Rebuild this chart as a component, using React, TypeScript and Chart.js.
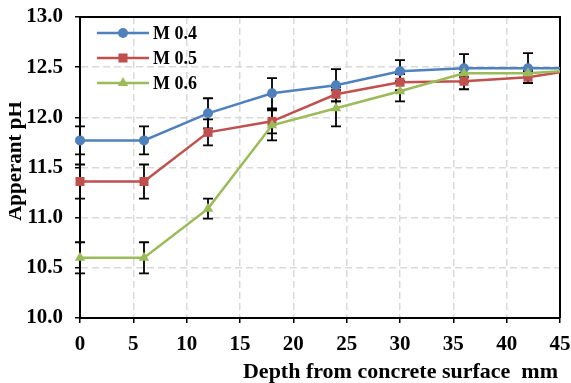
import React, { useEffect, useRef } from "react";
import { Chart, registerables } from "chart.js";

Chart.register(...registerables);

// ---- data ----
const depths = [0, 6, 12, 18, 24, 30, 36, 42, 48];
const seriesNames = ["M 0.4", "M 0.5", "M 0.6"];
const m04 = [11.77, 11.77, 12.04, 12.24, 12.32, 12.46, 12.49, 12.49, 12.49];
const m04Err = [0.14, 0.14, 0.15, 0.15, 0.16, 0.11, 0.14, 0.15, 0];
const m05 = [11.36, 11.36, 11.85, 11.96, 12.23, 12.35, 12.36, 12.4, 12.5];
const m05Err = [0.17, 0.17, 0.13, 0.12, 0.07, 0.08, 0.08, 0.06, 0];
const m06 = [10.6, 10.6, 11.09, 11.92, 12.09, 12.26, 12.44, 12.44, 12.48];
const m06Err = [0.155, 0.155, 0.1, 0.15, 0.18, 0.1, 0.04, 0.03, 0];
const xMin = 0;
const xMax = 45;
const xStep = 5;
const yMin = 10;
const yMax = 13;
const yStep = 0.5;
const xTitle = "Depth from concrete surface  mm";
const yTitle = "Apperant pH";

const values = [m04, m05, m06];
const errors = [m04Err, m05Err, m06Err];
const colors = ["#4F81BD", "#C0504D", "#9BBB59"];
const pointStyles = ["circle", "rect", "triangle"];
const pointRadii = [5, 6.4, 6];

const FONT = '"Liberation Serif", "Times New Roman", serif';

function drawMarker(ctx: CanvasRenderingContext2D, style: string, x: number, y: number, r: number, color: string) {
  ctx.save();
  ctx.fillStyle = color;
  ctx.beginPath();
  if (style === "circle") {
    ctx.arc(x, y, r, 0, Math.PI * 2);
  } else if (style === "rect") {
    const s = r * Math.SQRT1_2;
    ctx.rect(x - s, y - s, 2 * s, 2 * s);
  } else {
    const a = -Math.PI / 2;
    for (let i = 0; i < 3; i++) {
      const ang = a + (i * 2 * Math.PI) / 3;
      const px = x + Math.cos(ang) * r;
      const py = y + Math.sin(ang) * r;
      if (i === 0) ctx.moveTo(px, py);
      else ctx.lineTo(px, py);
    }
    ctx.closePath();
  }
  ctx.fill();
  ctx.restore();
}

const overlay = {
  id: "overlay",
  beforeDatasetsDraw(chart: any) {
    const { ctx, chartArea, scales } = chart;
    const x = scales.x;
    const y = scales.y;
    ctx.save();
    // top & right border
    ctx.strokeStyle = "#000";
    ctx.lineWidth = 2;
    ctx.beginPath();
    ctx.moveTo(chartArea.left, chartArea.top);
    ctx.lineTo(chartArea.right, chartArea.top);
    ctx.lineTo(chartArea.right, chartArea.bottom);
    ctx.stroke();
    // error bars
    ctx.lineWidth = 1.8;
    errors.forEach((err, si) => {
      const vals = values[si];
      depths.forEach((d, i) => {
        if (!err[i]) return;
        const px = x.getPixelForValue(d);
        if (px > chartArea.right + 1) return;
        const top = y.getPixelForValue(vals[i] + err[i]);
        const bot = y.getPixelForValue(vals[i] - err[i]);
        ctx.beginPath();
        ctx.moveTo(px, top);
        ctx.lineTo(px, bot);
        ctx.moveTo(px - 5, top);
        ctx.lineTo(px + 5, top);
        ctx.moveTo(px - 5, bot);
        ctx.lineTo(px + 5, bot);
        ctx.stroke();
      });
    });
    ctx.restore();
  },
  afterDraw(chart: any) {
    const { ctx } = chart;
    ctx.save();
    // legend
    const rows = [33, 58, 83];
    seriesNames.forEach((name, i) => {
      const ry = rows[i];
      ctx.strokeStyle = colors[i];
      ctx.lineWidth = 2.5;
      ctx.beginPath();
      ctx.moveTo(97, ry);
      ctx.lineTo(149, ry);
      ctx.stroke();
      drawMarker(ctx, pointStyles[i], 123, ry, pointRadii[i], colors[i]);
      ctx.fillStyle = "#000";
      ctx.font = `bold 18px ${FONT}`;
      ctx.textAlign = "left";
      ctx.textBaseline = "middle";
      ctx.fillText(name, 153, ry + 1);
    });
    // x title
    ctx.font = `bold 22px ${FONT}`;
    ctx.textAlign = "right";
    ctx.textBaseline = "middle";
    ctx.fillStyle = "#000";
    ctx.fillText(xTitle, 558, 372);
    // y title (clipped at the left, as in the original image)
    ctx.beginPath();
    ctx.rect(9, 0, 40, 383);
    ctx.clip();
    ctx.translate(21, 161);
    ctx.rotate(-Math.PI / 2);
    ctx.font = `bold 21px ${FONT}`;
    ctx.textAlign = "center";
    ctx.textBaseline = "alphabetic";
    ctx.fillText(yTitle, 0, 0);
    ctx.restore();
  },
};

export default function App() {
  const ref = useRef<HTMLCanvasElement>(null);
  useEffect(() => {
    document.body.style.margin = "0";
    const canvas = ref.current!;
    const chart = new Chart(canvas, {
      type: "line",
      data: {
        datasets: seriesNames.map((name, i) => ({
          label: name,
          data: depths.map((d, j) => ({ x: d, y: values[i][j] })),
          borderColor: colors[i],
          backgroundColor: colors[i],
          borderWidth: 2.5,
          pointStyle: pointStyles[i] as any,
          pointRadius: pointRadii[i],
          pointBorderWidth: 0,
          pointBackgroundColor: colors[i],
          tension: 0,
          order: 2 - i,
          clip: { left: 12, top: 12, right: 0, bottom: 12 } as any,
        })),
      },
      options: {
        animation: false,
        responsive: false,
        layout: { padding: { top: 17, right: 11, left: 0, bottom: 0 } },
        plugins: { legend: { display: false }, tooltip: { enabled: false } },
        scales: {
          x: {
            type: "linear",
            min: xMin,
            max: xMax,
            ticks: {
              stepSize: xStep,
              color: "#000",
              font: { family: FONT, size: 21, weight: "bold" },
              padding: 9,
              maxRotation: 0,
            },
            grid: {
              color: "#D9D9D9",
              lineWidth: 1.5,
              tickColor: "#000",
              tickLength: 5,
              tickWidth: 1.5,
              tickBorderDash: [],
            },
            border: { color: "#000", width: 2, dash: [7, 4] },
            afterFit: (s: any) => {
              s.height = 65;
              s.paddingLeft = 0;
              s.paddingRight = 0;
            },
          },
          y: {
            type: "linear",
            min: yMin,
            max: yMax,
            ticks: {
              stepSize: yStep,
              color: "#000",
              font: { family: FONT, size: 21, weight: "bold" },
              padding: 12,
              callback: (v: any) => Number(v).toFixed(1),
            },
            grid: {
              color: "#D9D9D9",
              lineWidth: 1.5,
              tickColor: "#000",
              tickLength: 5,
              tickWidth: 1.5,
              tickBorderDash: [],
            },
            border: { color: "#000", width: 2, dash: [7, 4] },
            afterFit: (s: any) => {
              s.width = 80;
              s.paddingTop = 0;
              s.paddingBottom = 0;
            },
          },
        },
      },
      plugins: [overlay],
    });
    return () => chart.destroy();
  }, []);
  return <canvas ref={ref} width={571} height={383} style={{ display: "block" }} />;
}
